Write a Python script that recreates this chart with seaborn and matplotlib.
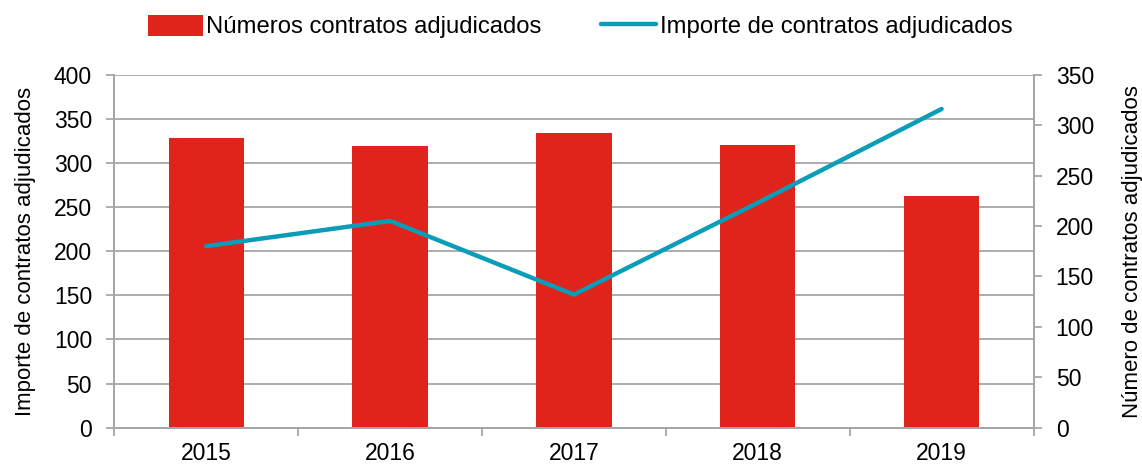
import matplotlib
matplotlib.use('Agg')
import matplotlib.pyplot as plt
import seaborn as sns
import numpy as np
from matplotlib.lines import Line2D
from matplotlib.patches import Patch

years = ["2015", "2016", "2017", "2018", "2019"]
numero_contratos = [328, 319, 334, 320, 262]
importe_contratos = [180, 205, 132, 223, 316]

bar_color = "#E0241B"
line_color = "#0A9DB8"
grid_color = "#A6A6A6"

sns.set_theme(style="white")
plt.rcParams['font.family'] = ['Liberation Sans', 'DejaVu Sans']

fig, ax = plt.subplots(figsize=(11.42, 4.65), dpi=100)
fig.subplots_adjust(left=0.1001, right=0.905, top=0.8394, bottom=0.0802)

sns.barplot(x=years, y=numero_contratos, ax=ax, color=bar_color, width=0.41,
            saturation=1, edgecolor="none")
ax.set_ylim(0, 400)
ax.set_yticks(range(0, 401, 50))
ax.yaxis.grid(True, color=grid_color, linewidth=1.3)
ax.set_axisbelow(True)

ax2 = ax.twinx()
sns.pointplot(x=years, y=importe_contratos, ax=ax2, color=line_color,
              markers="", linewidth=3.2)
ax2.set_ylim(0, 350)
ax2.set_yticks(range(0, 351, 50))
ax2.grid(False)
ax.set_xlim(-0.5, len(years) - 0.5)

for a in (ax, ax2):
    a.spines["top"].set_visible(False)
    for side in ("left", "right", "bottom"):
        a.spines[side].set_color(grid_color)
        a.spines[side].set_linewidth(1.3)

fs = 16.5
ax.set_xticks(range(len(years)))
ax.set_xticklabels(years)
ax.set_xticks(np.arange(-0.5, len(years)), minor=True)
ax.tick_params(axis="x", which="major", length=0, pad=10, labelsize=fs, colors="black")
ax.tick_params(axis="x", which="minor", length=6, width=1.3, color=grid_color, bottom=True)
ax.tick_params(axis="y", left=True, length=6, width=1.3, color=grid_color, pad=10,
               labelsize=fs, labelcolor="black")
ax2.tick_params(axis="y", right=True, length=6, width=1.3, color=grid_color, pad=10,
                labelsize=fs, labelcolor="black")

ax.set_xlabel("")
ax2.set_xlabel("")
ax.set_ylabel("Importe de contratos adjudicados", fontsize=16, labelpad=13, color="black")
ax2.set_ylabel("Número de contratos adjudicados", fontsize=16, labelpad=20, color="black")

handles = [Patch(facecolor=bar_color, edgecolor="none"),
           Line2D([0], [0], color=line_color, linewidth=3.2)]
labels = ["Números contratos adjudicados", "Importe de contratos adjudicados"]
fig.legend(handles, labels, loc="upper center", bbox_to_anchor=(0.508, 1.015), ncol=2,
           frameon=False, fontsize=17.2, handlelength=2.3, handleheight=1.0,
           handletextpad=0.15, columnspacing=2.5, labelcolor="black")

fig.savefig("out.png", dpi=100)
